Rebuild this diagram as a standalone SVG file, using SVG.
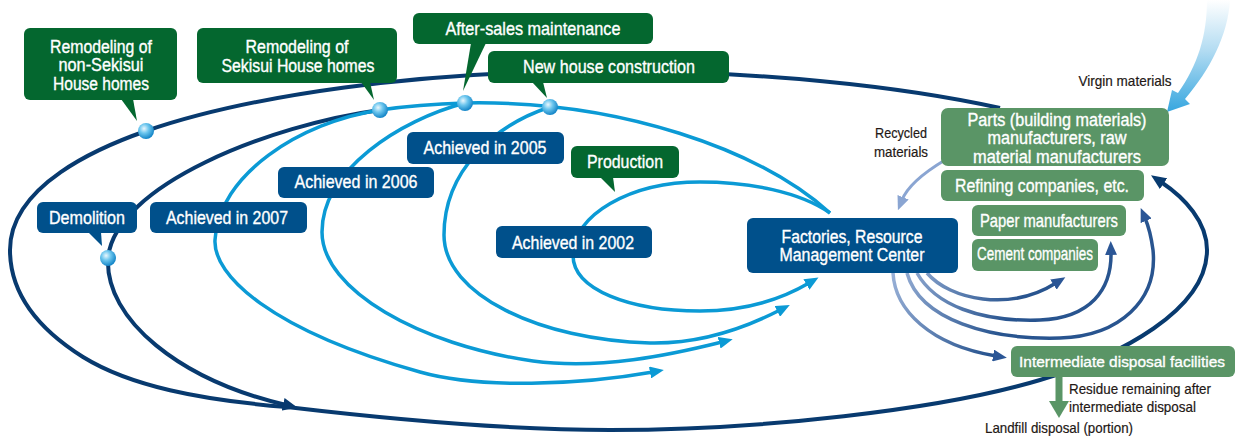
<svg xmlns="http://www.w3.org/2000/svg" width="1236" height="437" viewBox="0 0 1236 437">
<style>
.cb{fill:#04672f}
.gb{fill:#5a9566}
.bb{fill:#00508b}
.wt{fill:#ffffff;stroke:#ffffff;stroke-width:0.35;font-family:"Liberation Sans Narrow","Liberation Sans",Arial,sans-serif;font-size:18.5px;text-anchor:middle}
.wm{font-size:17.5px}
.ws{font-size:15.5px}
.dt{fill:#231815;stroke:#231815;stroke-width:0.2;font-family:"Liberation Sans Narrow","Liberation Sans",Arial,sans-serif;font-size:15px}
.lb{fill:none;stroke:#0b9ad5;stroke-width:3.5;marker-end:url(#aLB)}
.lbn{fill:none;stroke:#0b9ad5;stroke-width:3.5}
.nv{fill:none;stroke:#083a6f;stroke-width:4;marker-end:url(#aNV)}
.st{fill:none;stroke:url(#gSteel);stroke-width:3.5;marker-end:url(#aST)}
.ball{fill:url(#gBall)}
</style>
<defs>
<marker id="aLB" viewBox="0 0 14 12" refX="3" refY="6" markerWidth="14" markerHeight="12" markerUnits="userSpaceOnUse" orient="auto"><path d="M0,0 L14,6 L0,12 Z" fill="#0b9ad5"/></marker>
<marker id="aNV" viewBox="0 0 15 13" refX="3" refY="6.5" markerWidth="15" markerHeight="13" markerUnits="userSpaceOnUse" orient="auto"><path d="M0,0 L15,6.5 L0,13 Z" fill="#083a6f"/></marker>
<marker id="aST" viewBox="0 0 14 12" refX="3" refY="6" markerWidth="14" markerHeight="12" markerUnits="userSpaceOnUse" orient="auto"><path d="M0,0 L14,6 L0,12 Z" fill="#2b5696"/></marker>
<marker id="aRC" viewBox="0 0 14 12" refX="3" refY="6" markerWidth="14" markerHeight="12" markerUnits="userSpaceOnUse" orient="auto"><path d="M0,0 L14,6 L0,12 Z" fill="#8aa5d2"/></marker>
<linearGradient id="gSteel" gradientUnits="userSpaceOnUse" x1="890" y1="272" x2="1000" y2="335"><stop offset="0" stop-color="#9cb3d9"/><stop offset="1" stop-color="#28548f"/></linearGradient>
<linearGradient id="gVirgin" gradientUnits="userSpaceOnUse" x1="0" y1="0" x2="0" y2="112"><stop offset="0" stop-color="#ffffff"/><stop offset="0.45" stop-color="#b3dcf2"/><stop offset="1" stop-color="#36a6df"/></linearGradient>
<radialGradient id="gBall" cx="0.38" cy="0.35" r="0.65"><stop offset="0" stop-color="#eaf7fd"/><stop offset="0.45" stop-color="#6cc6ee"/><stop offset="1" stop-color="#1586c8"/></radialGradient>
</defs>

<g id="connectors">
<path class="nv" d="M1000 108 C900 86,760 71,600 71 C420 71,250 95,146 131 C100 147,10 185,10 250 C10 295,40 330,83 357 C130 386,200 400,287 407 C380 418,500 430,610 430 C760 430,940 410,1040 380 C1120 356,1207 310,1207 250 C1207 222,1185 198,1161 182"/>
<path class="nv" d="M380 110 C270 125,115 185,108 258 C105 320,180 380,286 405"/>
<path class="lbn" d="M830 213 C760 150,620 100,465 103 C430 104,400 107,380 110"/>
<path class="lb" d="M380 110 C300 122,218 175,215 240 C213 275,270 330,420 372 C480 389,580 385,653 372"/>
<path class="lb" d="M465 103 C400 120,322 170,322 232 C322 290,420 345,533 361 C600 370,670 355,722 342"/>
<path class="lb" d="M550 107 C495 125,444 170,444 235 C444 295,540 340,650 343 C700 344,745 328,780 310"/>
<path class="lb" d="M830 213 C800 192,750 182,700 182 C630 182,573 215,573 255 C573 290,630 311,700 311 C745 311,780 300,809 283"/>
<path d="M945 160 C925 172,908 185,902 200" fill="none" stroke="#8aa5d2" stroke-width="3" marker-end="url(#aRC)"/>
<path class="st" d="M893 273 C895 310,930 345,996 356"/>
<path class="st" d="M907 273 C920 320,990 340,1060 338 C1120 336,1158 300,1153 250 C1151 235,1148 225,1145 218"/>
<path class="st" d="M917 273 C935 305,980 322,1040 320 C1090 318,1112 290,1111 252"/>
<path class="st" d="M927 273 C950 300,1010 312,1056 283"/>
<path d="M1207 0 C1207 35,1198 65,1178 93 L1172 90 L1167 112 L1190 104 L1185 99 C1210 70,1228 35,1230 0 Z" fill="url(#gVirgin)"/>
<rect x="1055.5" y="377" width="7" height="26" fill="#5a9566"/>
<polygon points="1049,401 1069,401 1059,418" fill="#5a9566"/>
</g>

<g id="junctions">
<circle class="ball" cx="146" cy="131" r="8"/>
<circle class="ball" cx="380" cy="110" r="8"/>
<circle class="ball" cx="465" cy="103" r="8"/>
<circle class="ball" cx="550" cy="107" r="8"/>
<circle class="ball" cx="108" cy="258" r="8"/>
</g>

<g id="n-remodel-non">
<rect class="cb" x="24" y="28" width="153" height="72" rx="6"/>
<polygon class="cb" points="121,99 133,99 137,121"/>
<text class="wt wm" x="101" y="52.5" textLength="102" lengthAdjust="spacingAndGlyphs">Remodeling of</text>
<text class="wt wm" x="101" y="71" textLength="85" lengthAdjust="spacingAndGlyphs">non-Sekisui</text>
<text class="wt wm" x="101" y="90" textLength="96" lengthAdjust="spacingAndGlyphs">House homes</text>
</g>
<g id="n-remodel-sekisui">
<rect class="cb" x="197" y="28" width="200" height="55" rx="6"/>
<polygon class="cb" points="361,82 370,82 374,100"/>
<text class="wt wm" x="297" y="52.5" textLength="103" lengthAdjust="spacingAndGlyphs">Remodeling of</text>
<text class="wt wm" x="298" y="71.5" textLength="153" lengthAdjust="spacingAndGlyphs">Sekisui House homes</text>
</g>
<g id="n-aftersales">
<rect class="cb" x="413" y="13" width="240" height="31" rx="6"/>
<polygon class="cb" points="471,43 486,43 463,91"/>
<text class="wt" x="533" y="35" textLength="175" lengthAdjust="spacingAndGlyphs">After-sales maintenance</text>
</g>
<g id="n-newhouse">
<rect class="cb" x="488" y="51" width="241" height="32" rx="6"/>
<polygon class="cb" points="532,82 543,82 547,98"/>
<text class="wt" x="609" y="72.5" textLength="172" lengthAdjust="spacingAndGlyphs">New house construction</text>
</g>
<g id="n-production">
<rect class="cb" x="571" y="146" width="108" height="32" rx="6"/>
<polygon class="cb" points="600,177 613,177 615,192"/>
<text class="wt" x="625" y="167.5" textLength="76" lengthAdjust="spacingAndGlyphs">Production</text>
</g>
<g id="n-2005">
<rect class="bb" x="407" y="132" width="157" height="32" rx="6"/>
<text class="wt" x="485" y="154" textLength="123" lengthAdjust="spacingAndGlyphs">Achieved in 2005</text>
</g>
<g id="n-2006">
<rect class="bb" x="278" y="167" width="156" height="31" rx="6"/>
<text class="wt" x="356" y="188" textLength="123" lengthAdjust="spacingAndGlyphs">Achieved in 2006</text>
</g>
<g id="n-2007">
<rect class="bb" x="150" y="202" width="157" height="31" rx="6"/>
<text class="wt" x="227" y="223.5" textLength="122" lengthAdjust="spacingAndGlyphs">Achieved in 2007</text>
</g>
<g id="n-demolition">
<rect class="bb" x="37" y="202" width="100" height="31" rx="6"/>
<polygon class="bb" points="88,232 101,232 102,246"/>
<text class="wt" x="87" y="223.5" textLength="76" lengthAdjust="spacingAndGlyphs">Demolition</text>
</g>
<g id="n-2002">
<rect class="bb" x="496" y="226" width="156" height="32" rx="6"/>
<text class="wt" x="573" y="249" textLength="122" lengthAdjust="spacingAndGlyphs">Achieved in 2002</text>
</g>
<g id="n-factory">
<rect class="bb" x="747" y="218" width="211" height="55" rx="6"/>
<text class="wt wm" x="852" y="243" textLength="141" lengthAdjust="spacingAndGlyphs">Factories, Resource</text>
<text class="wt wm" x="852" y="261" textLength="145" lengthAdjust="spacingAndGlyphs">Management Center</text>
</g>
<g id="n-parts">
<rect class="gb" x="941" y="108" width="228" height="58" rx="7"/>
<text class="wt wm" x="1057" y="125.5" textLength="179" lengthAdjust="spacingAndGlyphs">Parts (building materials)</text>
<text class="wt wm" x="1057" y="144" textLength="139" lengthAdjust="spacingAndGlyphs">manufacturers, raw</text>
<text class="wt wm" x="1057" y="163" textLength="168" lengthAdjust="spacingAndGlyphs">material manufacturers</text>
</g>
<g id="n-refining">
<rect class="gb" x="941" y="170" width="203" height="31" rx="6"/>
<text class="wt" x="1042" y="191.5" textLength="174" lengthAdjust="spacingAndGlyphs">Refining companies, etc.</text>
</g>
<g id="n-paper">
<rect class="gb" x="972" y="205" width="154" height="31" rx="6"/>
<text class="wt" x="1049" y="227" textLength="138" lengthAdjust="spacingAndGlyphs">Paper manufacturers</text>
</g>
<g id="n-cement">
<rect class="gb" x="972" y="239" width="126" height="32" rx="6"/>
<text class="wt" x="1035" y="260" textLength="116" lengthAdjust="spacingAndGlyphs">Cement companies</text>
</g>
<g id="n-intermediate">
<rect class="gb" x="1011" y="346" width="224" height="31" rx="6"/>
<text class="wt ws" x="1122" y="367" textLength="206" lengthAdjust="spacingAndGlyphs">Intermediate disposal facilities</text>
</g>
<g id="labels">
<text class="dt" x="1125" y="86" text-anchor="middle" textLength="93" lengthAdjust="spacingAndGlyphs">Virgin materials</text>
<text class="dt" x="901" y="138" text-anchor="middle" textLength="52" lengthAdjust="spacingAndGlyphs">Recycled</text>
<text class="dt" x="901" y="157" text-anchor="middle" textLength="54" lengthAdjust="spacingAndGlyphs">materials</text>
<text class="dt" x="1069" y="394" textLength="142" lengthAdjust="spacingAndGlyphs">Residue remaining after</text>
<text class="dt" x="1069" y="412" textLength="127" lengthAdjust="spacingAndGlyphs">intermediate disposal</text>
<text class="dt" x="985" y="433" textLength="148" lengthAdjust="spacingAndGlyphs">Landfill disposal (portion)</text>
</g>
</svg>
